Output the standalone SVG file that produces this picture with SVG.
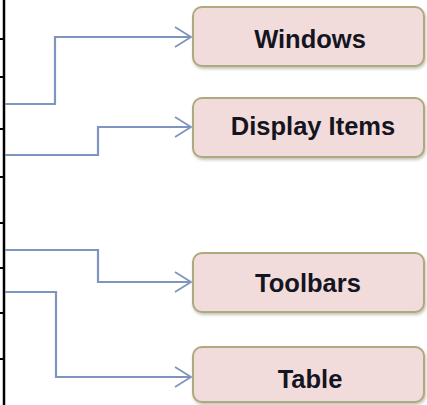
<svg xmlns="http://www.w3.org/2000/svg" width="427" height="405" viewBox="0 0 427 405">
<defs>
<filter id="sh" x="-10%" y="-10%" width="120%" height="130%">
<feDropShadow dx="1" dy="2" stdDeviation="1.5" flood-color="#7a7a60" flood-opacity="0.45"/>
</filter>
<marker id="arr" markerWidth="20" markerHeight="24" refX="17" refY="11" orient="auto" markerUnits="userSpaceOnUse">
<polyline points="1,1 17,11 1,21" fill="none" stroke="#7f95c0" stroke-width="1.8"/>
</marker>
</defs>
<style>
.box{fill:#f2dcdb;stroke:#aeaa80;stroke-width:2;filter:url(#sh)}
.lbl{font-family:"Liberation Sans",Arial,sans-serif;font-weight:bold;font-size:25.5px;fill:#15151f;text-anchor:middle}
.con{fill:none;stroke:#7f95c0;stroke-width:2.2;marker-end:url(#arr)}
.axis{stroke:#000;stroke-width:2.5}
.tick{stroke:#000;stroke-width:2}
</style>
<rect width="427" height="405" fill="#fff"/>
<g id="axis">
<line class="axis" x1="4" y1="0" x2="4" y2="405"/>
<line class="tick" x1="0" y1="39" x2="4" y2="39"/>
<line class="tick" x1="0" y1="77" x2="4" y2="77"/>
<line class="tick" x1="0" y1="129" x2="4" y2="129"/>
<line class="tick" x1="0" y1="177" x2="4" y2="177"/>
<line class="tick" x1="0" y1="223" x2="4" y2="223"/>
<line class="tick" x1="0" y1="268" x2="4" y2="268"/>
<line class="tick" x1="0" y1="313" x2="4" y2="313"/>
<line class="tick" x1="0" y1="359" x2="4" y2="359"/>
</g>
<g id="connectors">
<path class="con" d="M5,104 H55 V37 H191"/>
<path class="con" d="M5,155 H98 V127 H191"/>
<path class="con" d="M5,250 H98 V282 H191"/>
<path class="con" d="M5,292 H56 V377 H191"/>
</g>
<g id="windows">
<rect class="box" x="193" y="7" width="231" height="59" rx="9"/>
<text class="lbl" x="310" y="48">Windows</text>
</g>
<g id="display-items">
<rect class="box" x="193" y="98" width="231" height="59" rx="9"/>
<text class="lbl" x="313" y="135">Display Items</text>
</g>
<g id="toolbars">
<rect class="box" x="193" y="253" width="231" height="59" rx="9"/>
<text class="lbl" x="308" y="292">Toolbars</text>
</g>
<g id="table">
<rect class="box" x="193" y="347" width="231" height="55" rx="9"/>
<text class="lbl" x="310" y="388">Table</text>
</g>
</svg>
